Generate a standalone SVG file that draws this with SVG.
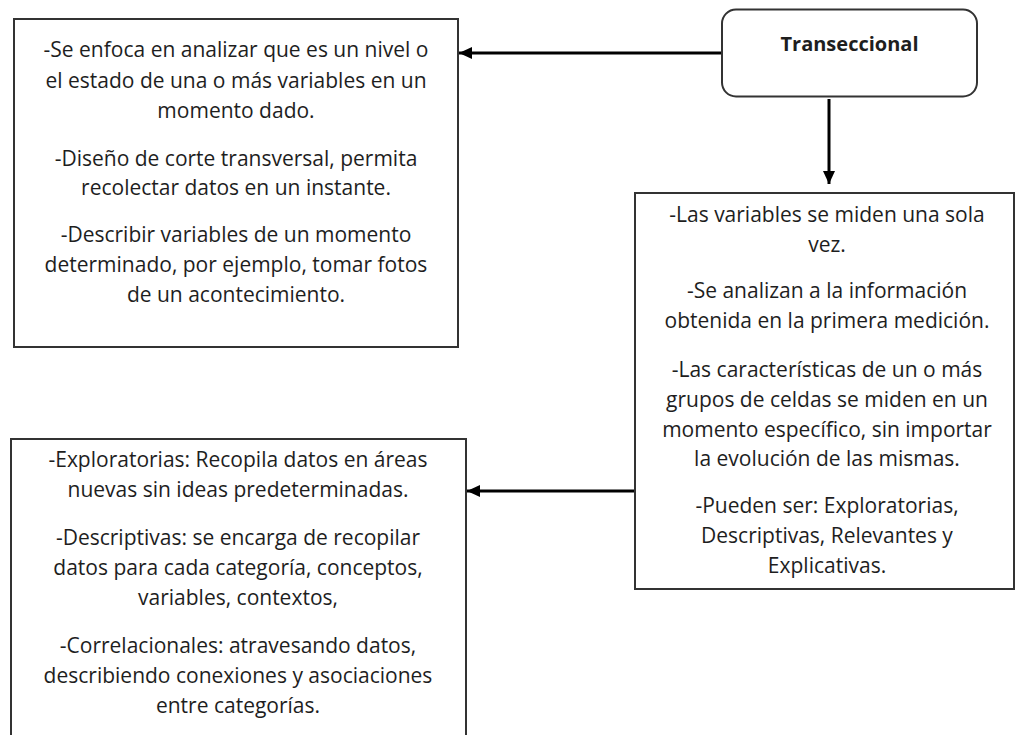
<svg xmlns="http://www.w3.org/2000/svg" width="1016" height="735" viewBox="0 0 1016 735">
  <style>
    .box { fill: #ffffff; stroke: #333333; stroke-width: 2; }
    .txt { font-family: "Open Sans", "Noto Sans", sans-serif; font-size: 21px; fill: #1e1e1e; text-anchor: middle; }
    .title { font-family: "Open Sans", "Noto Sans", sans-serif; font-size: 20px; font-weight: bold; fill: #1e1e1e; text-anchor: middle; }
    .conn { stroke: #000000; stroke-width: 3; fill: none; }
  </style>
  <defs>
    <marker id="arrow" markerUnits="userSpaceOnUse" markerWidth="14" markerHeight="12" refX="13" refY="6" orient="auto">
      <path d="M0,0 L13,6 L0,12 z" fill="#000000"/>
    </marker>
  </defs>
  <rect width="1016" height="735" fill="#ffffff"/>

  <g id="connectors">
    <line class="conn" x1="722" y1="53" x2="459" y2="53" marker-end="url(#arrow)"/>
    <line class="conn" x1="829" y1="99" x2="829" y2="184" marker-end="url(#arrow)"/>
    <line class="conn" x1="635" y1="491" x2="467" y2="491" marker-end="url(#arrow)"/>
  </g>

  <g id="node-transeccional">
    <rect class="box" x="722" y="9.5" width="255" height="87" rx="14" ry="14"/>
    <text class="title" x="849.5" y="51">Transeccional</text>
  </g>

  <g id="node-enfoque">
    <rect class="box" x="14" y="19" width="444" height="328"/>
    <text class="txt" x="236" y="57">-Se enfoca en analizar que es un nivel o</text>
    <text class="txt" x="236" y="88">el estado de una o más variables en un</text>
    <text class="txt" x="236" y="118">momento dado.</text>
    <text class="txt" x="236" y="166">-Diseño de corte transversal, permita</text>
    <text class="txt" x="236" y="195">recolectar datos en un instante.</text>
    <text class="txt" x="236" y="242">-Describir variables de un momento</text>
    <text class="txt" x="236" y="272">determinado, por ejemplo, tomar fotos</text>
    <text class="txt" x="236" y="302">de un acontecimiento.</text>
  </g>

  <g id="node-caracteristicas">
    <rect class="box" x="635" y="193" width="379" height="396"/>
    <text class="txt" x="827" y="222">-Las variables se miden una sola</text>
    <text class="txt" x="827" y="252">vez.</text>
    <text class="txt" x="827" y="298">-Se analizan a la información</text>
    <text class="txt" x="827" y="328">obtenida en la primera medición.</text>
    <text class="txt" x="827" y="377">-Las características de un o más</text>
    <text class="txt" x="827" y="407">grupos de celdas se miden en un</text>
    <text class="txt" x="827" y="437">momento específico, sin importar</text>
    <text class="txt" x="827" y="466">la evolución de las mismas.</text>
    <text class="txt" x="827" y="513">-Pueden ser: Exploratorias,</text>
    <text class="txt" x="827" y="543">Descriptivas, Relevantes y</text>
    <text class="txt" x="827" y="573">Explicativas.</text>
  </g>

  <g id="node-tipos">
    <rect class="box" x="11" y="439" width="455" height="310"/>
    <text class="txt" x="238" y="467">-Exploratorias: Recopila datos en áreas</text>
    <text class="txt" x="238" y="497">nuevas sin ideas predeterminadas.</text>
    <text class="txt" x="238" y="545">-Descriptivas: se encarga de recopilar</text>
    <text class="txt" x="238" y="575">datos para cada categoría, conceptos,</text>
    <text class="txt" x="238" y="605">variables, contextos,</text>
    <text class="txt" x="238" y="653">-Correlacionales: atravesando datos,</text>
    <text class="txt" x="238" y="683">describiendo conexiones y asociaciones</text>
    <text class="txt" x="238" y="713">entre categorías.</text>
  </g>
</svg>
